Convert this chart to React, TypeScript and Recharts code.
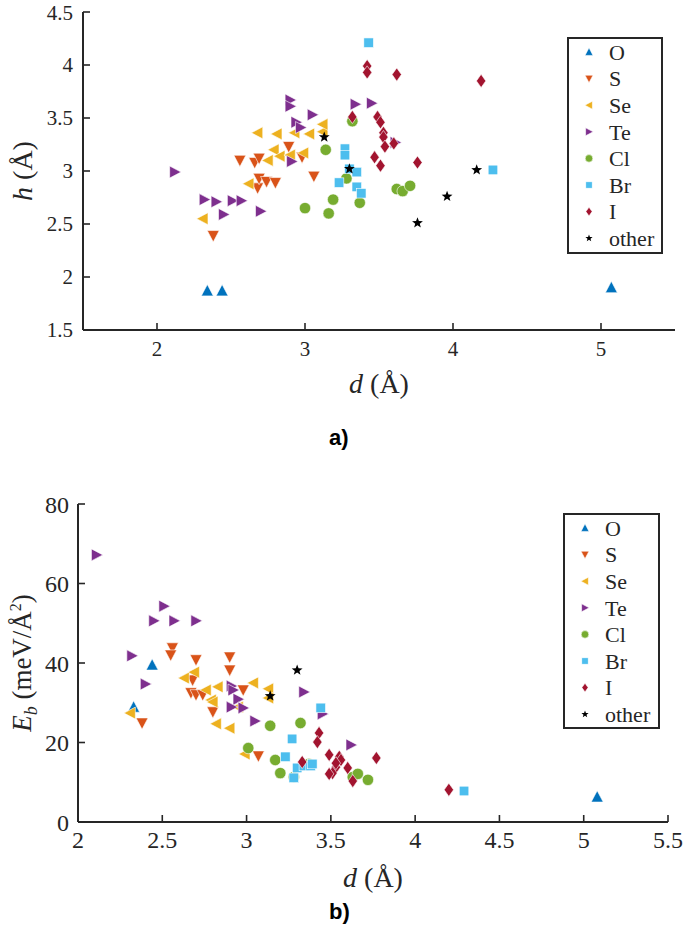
import React from 'react';
import { ScatterChart, Scatter, XAxis, YAxis, Legend } from 'recharts';

// ---------- data ----------
const seriesNames = ['O', 'S', 'Se', 'Te', 'Cl', 'Br', 'I', 'other'];
const seriesColors = ['#0072BD', '#D95319', '#EDB120', '#7E2F8E', '#77AC30', '#4DBEEE', '#A2142F', '#000000'];
const seriesShapes = ['up', 'down', 'left', 'right', 'circle', 'square', 'diamond', 'star'];

// panel a) : d (Å) vs h (Å)
const topO = [[2.34, 1.87], [2.44, 1.87], [5.07, 1.9]];
const topS = [[2.38, 2.39], [2.56, 3.1], [2.66, 3.08], [2.69, 3.12], [2.68, 2.84], [2.69, 2.93], [2.74, 2.9], [2.8, 2.89], [2.89, 3.23], [2.98, 3.13], [3.06, 2.95]];
const topSe = [[2.31, 2.55], [2.62, 2.88], [2.68, 3.36], [2.75, 3.1], [2.79, 3.2], [2.81, 3.35], [2.83, 3.14], [2.9, 3.15], [2.93, 3.36], [2.99, 3.17], [3.03, 3.35], [3.12, 3.37], [3.12, 3.44]];
const topTe = [[2.12, 2.99], [2.32, 2.73], [2.4, 2.71], [2.45, 2.59], [2.51, 2.72], [2.57, 2.72], [2.7, 2.62], [2.9, 3.67], [2.9, 3.61], [2.94, 3.46], [2.97, 3.41], [3.05, 3.53], [2.91, 3.09], [3.34, 3.63], [3.45, 3.64], [3.61, 3.27]];
const topCl = [[3.0, 2.65], [3.14, 3.2], [3.19, 2.73], [3.16, 2.6], [3.28, 2.93], [3.32, 3.47], [3.37, 2.7], [3.62, 2.83], [3.66, 2.81], [3.71, 2.86]];
const topBr = [[3.43, 4.21], [3.27, 3.21], [3.27, 3.15], [3.3, 3.02], [3.35, 2.99], [3.23, 2.89], [3.35, 2.85], [3.38, 2.79], [4.27, 3.01]];
const topI = [[3.42, 3.99], [3.42, 3.93], [3.62, 3.91], [4.19, 3.85], [3.32, 3.51], [3.49, 3.51], [3.51, 3.46], [3.53, 3.36], [3.53, 3.32], [3.6, 3.26], [3.54, 3.23], [3.47, 3.13], [3.51, 3.05], [3.76, 3.08]];
const topOther = [[3.13, 3.32], [3.3, 3.02], [4.16, 3.01], [3.96, 2.76], [3.76, 2.51]];

// panel b) : d (Å) vs E_b (meV/Å²)
const botO = [[2.33, 28.9], [2.44, 39.5], [5.08, 6.3]];
const botS = [[2.38, 24.9], [2.56, 43.8], [2.55, 42.0], [2.7, 40.8], [2.9, 41.5], [2.9, 38.2], [2.98, 33.2], [2.68, 35.7], [2.67, 32.5], [2.7, 32.0], [2.74, 32.0], [2.8, 27.7], [3.07, 16.6]];
const botSe = [[2.31, 27.4], [2.63, 36.2], [2.69, 37.7], [2.76, 33.2], [2.83, 34.0], [2.79, 30.7], [2.8, 30.2], [2.82, 24.7], [2.9, 23.6], [2.95, 28.9], [3.04, 35.0], [3.13, 33.5], [3.13, 31.2], [2.99, 17.1]];
const botTe = [[2.11, 67.2], [2.51, 54.3], [2.45, 50.6], [2.57, 50.6], [2.7, 50.6], [2.32, 41.8], [2.4, 34.7], [2.91, 34.2], [2.92, 33.2], [2.95, 30.9], [2.91, 28.9], [2.98, 28.7], [3.05, 25.4], [3.34, 32.7], [3.45, 27.2], [3.62, 19.4]];
const botCl = [[3.01, 18.6], [3.14, 24.2], [3.17, 15.6], [3.2, 12.3], [3.28, 11.3], [3.32, 24.9], [3.37, 14.6], [3.63, 11.3], [3.66, 12.1], [3.72, 10.6]];
const botBr = [[3.23, 16.4], [3.27, 20.9], [3.44, 28.7], [3.28, 11.1], [3.3, 13.6], [3.34, 14.1], [3.38, 14.1], [3.39, 14.6], [4.29, 7.8]];
const botI = [[3.43, 22.4], [3.42, 20.1], [3.33, 15.1], [3.49, 16.9], [3.55, 16.4], [3.56, 15.6], [3.53, 13.8], [3.51, 12.3], [3.49, 12.1], [3.6, 13.6], [3.63, 10.3], [3.77, 16.1], [4.2, 8.1], [3.53, 14.8]];
const botOther = [[3.14, 31.7], [3.3, 38.2]];

const topSeries = [topO, topS, topSe, topTe, topCl, topBr, topI, topOther];
const botSeries = [botO, botS, botSe, botTe, botCl, botBr, botI, botOther];

const topXTicks = [2, 3, 4, 5];
const topYTicks = [1.5, 2, 2.5, 3, 3.5, 4, 4.5];
const botXTicks = [2, 2.5, 3, 3.5, 4, 4.5, 5, 5.5];
const botYTicks = [0, 20, 40, 60, 80];

// ---------- styling ----------
const AXIS = '#262626';
const SERIF = 'Liberation Serif';

function Marker({ kind, cx, cy, s, color }: any) {
  if (cx == null || cy == null) return null;
  const h = s / 2;
  const stroke = kind === 'star' ? 'none' : '#ffffff';
  const sw = 0.6;
  switch (kind) {
    case 'up':
      return <polygon points={`${cx},${cy - h * 1.05} ${cx - h},${cy + h * 0.85} ${cx + h},${cy + h * 0.85}`} fill={color} stroke={stroke} strokeWidth={sw} />;
    case 'down':
      return <polygon points={`${cx},${cy + h * 1.05} ${cx - h},${cy - h * 0.85} ${cx + h},${cy - h * 0.85}`} fill={color} stroke={stroke} strokeWidth={sw} />;
    case 'left':
      return <polygon points={`${cx - h * 1.05},${cy} ${cx + h * 0.85},${cy - h} ${cx + h * 0.85},${cy + h}`} fill={color} stroke={stroke} strokeWidth={sw} />;
    case 'right':
      return <polygon points={`${cx + h * 1.05},${cy} ${cx - h * 0.85},${cy - h} ${cx - h * 0.85},${cy + h}`} fill={color} stroke={stroke} strokeWidth={sw} />;
    case 'circle':
      return <circle cx={cx} cy={cy} r={h * 0.95} fill={color} stroke={stroke} strokeWidth={sw} />;
    case 'square':
      return <rect x={cx - h * 0.8} y={cy - h * 0.8} width={h * 1.6} height={h * 1.6} fill={color} stroke={stroke} strokeWidth={sw} />;
    case 'diamond':
      return <polygon points={`${cx},${cy - h * 1.1} ${cx + h * 0.78},${cy} ${cx},${cy + h * 1.1} ${cx - h * 0.78},${cy}`} fill={color} stroke={stroke} strokeWidth={sw} />;
    case 'star': {
      const pts: string[] = [];
      const R = h * 0.95;
      const r = R * 0.42;
      for (let i = 0; i < 10; i++) {
        const a = -Math.PI / 2 + (i * Math.PI) / 5;
        const rr = i % 2 === 0 ? R : r;
        pts.push(`${cx + rr * Math.cos(a)},${cy + rr * Math.sin(a)}`);
      }
      return <polygon points={pts.join(' ')} fill={color} />;
    }
    default:
      return null;
  }
}

const makeLegend = (w: number, h: number) => () => (
  <svg width={w} height={h} style={{ display: 'block' }}>
    <rect x={1} y={1} width={w - 2} height={h - 2} fill="#ffffff" stroke={AXIS} strokeWidth={2} />
    {seriesNames.map((name, i) => {
      const cy = 15 + i * 26.6;
      return (
        <g key={name}>
          <Marker kind={seriesShapes[i]} cx={22} cy={cy} s={8} color={seriesColors[i]} />
          <text x={42} y={cy} dy="0.35em" fill={AXIS} fontFamily={SERIF} fontSize={22}>
            {name}
          </text>
        </g>
      );
    })}
  </svg>
);

const toPoints = (arr: number[][], yKey: string) => arr.map(([d, v]) => ({ d, [yKey]: v }));

const tickStyleTop = { fontFamily: SERIF, fontSize: 21, fill: AXIS };
const tickStyleBot = { fontFamily: SERIF, fontSize: 24, fill: AXIS };
const tickLineStyle = { stroke: AXIS, strokeWidth: 1.6 };
const axisLineStyle = { stroke: AXIS, strokeWidth: 2 };

export default function App() {
  return (
    <div style={{ position: 'absolute', left: 0, top: 0, width: 685, height: 941, background: '#ffffff', fontFamily: SERIF }}>
      {/* panel a */}
      <div style={{ position: 'absolute', left: 0, top: 0 }}>
        <ScatterChart width={685} height={410} margin={{ top: 12, right: 10, bottom: 0, left: 0 }}>
          <XAxis
            type="number"
            dataKey="d"
            domain={[1.5, 5.5]}
            ticks={topXTicks}
            allowDataOverflow
            height={80}
            tickSize={-7}
            tickMargin={18}
            tickLine={tickLineStyle}
            axisLine={axisLineStyle}
            tick={tickStyleTop}
            label={{
              content: () => (
                <text x={379} y={383} dy="0.35em" textAnchor="middle" fill={AXIS} fontFamily={SERIF} fontSize={28}>
                  <tspan fontStyle="italic">d</tspan> (Å)
                </text>
              ),
            }}
          />
          <YAxis
            type="number"
            dataKey="h"
            domain={[1.5, 4.5]}
            ticks={topYTicks}
            allowDataOverflow
            width={83}
            tickSize={-7}
            tickMargin={17}
            tickLine={tickLineStyle}
            axisLine={axisLineStyle}
            tick={tickStyleTop}
            label={{
              content: () => (
                <text x={22} y={171} dy="0.35em" textAnchor="middle" transform="rotate(-90 22 171)" fill={AXIS} fontFamily={SERIF} fontSize={28}>
                  <tspan fontStyle="italic">h</tspan> (Å)
                </text>
              ),
            }}
          />
          {topSeries.map((arr, i) => (
            <Scatter
              key={seriesNames[i]}
              name={seriesNames[i]}
              data={toPoints(arr, 'h')}
              fill={seriesColors[i]}
              isAnimationActive={false}
              shape={(p: any) => <Marker kind={seriesShapes[i]} cx={p.cx} cy={p.cy} s={12} color={seriesColors[i]} />}
            />
          ))}
          <Legend
            layout="horizontal"
            verticalAlign="middle"
            align="center"
            wrapperStyle={{ left: 567, top: 37, width: 96, height: 217 }}
            content={makeLegend(96, 217)}
          />
        </ScatterChart>
      </div>
      <div style={{ position: 'absolute', left: 329, top: 425, fontFamily: '"Liberation Sans", Arial, sans-serif', fontWeight: 'bold', fontSize: 22, color: '#000' }}>
        a)
      </div>

      {/* panel b */}
      <div style={{ position: 'absolute', left: 0, top: 480 }}>
        <ScatterChart width={685} height={420} margin={{ top: 24, right: 17, bottom: 0, left: 0 }}>
          <XAxis
            type="number"
            dataKey="d"
            domain={[2, 5.5]}
            ticks={botXTicks}
            allowDataOverflow
            height={78}
            tickSize={-7}
            tickMargin={16}
            tickLine={tickLineStyle}
            axisLine={axisLineStyle}
            tick={tickStyleBot}
            label={{
              content: () => (
                <text x={373} y={397} dy="0.35em" textAnchor="middle" fill={AXIS} fontFamily={SERIF} fontSize={28}>
                  <tspan fontStyle="italic">d</tspan> (Å)
                </text>
              ),
            }}
          />
          <YAxis
            type="number"
            dataKey="e"
            domain={[0, 80]}
            ticks={botYTicks}
            allowDataOverflow
            width={78}
            tickSize={-7}
            tickMargin={16}
            tickLine={tickLineStyle}
            axisLine={axisLineStyle}
            tick={tickStyleBot}
            label={{
              content: () => (
                <text x={22} y={183} dy="0.35em" textAnchor="middle" transform="rotate(-90 22 183)" fill={AXIS} fontFamily={SERIF} fontSize={27}>
                  <tspan fontStyle="italic">E</tspan>
                  <tspan fontStyle="italic" fontSize={18} dy="6">b</tspan>
                  <tspan dy="-6"> (meV/Å</tspan>
                  <tspan fontSize={16} dy="-10">2</tspan>
                  <tspan dy="10">)</tspan>
                </text>
              ),
            }}
          />
          {botSeries.map((arr, i) => (
            <Scatter
              key={seriesNames[i]}
              name={seriesNames[i]}
              data={toPoints(arr, 'e')}
              fill={seriesColors[i]}
              isAnimationActive={false}
              shape={(p: any) => <Marker kind={seriesShapes[i]} cx={p.cx} cy={p.cy} s={12} color={seriesColors[i]} />}
            />
          ))}
          <Legend
            layout="horizontal"
            verticalAlign="middle"
            align="center"
            wrapperStyle={{ left: 563, top: 33, width: 97, height: 216 }}
            content={makeLegend(97, 216)}
          />
        </ScatterChart>
      </div>
      <div style={{ position: 'absolute', left: 329, top: 899, fontFamily: '"Liberation Sans", Arial, sans-serif', fontWeight: 'bold', fontSize: 22, color: '#000' }}>
        b)
      </div>
    </div>
  );
}
